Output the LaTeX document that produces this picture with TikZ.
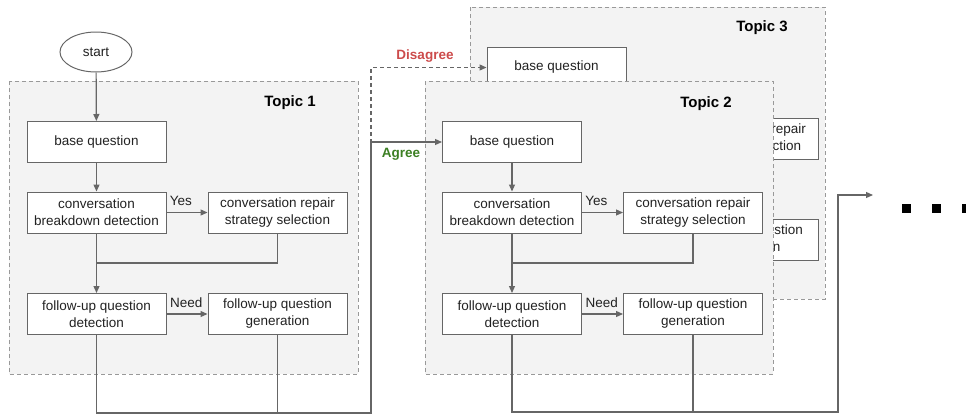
\documentclass[tikz,border=0pt]{standalone}
\usepackage{fontspec}
\setmainfont{Liberation Sans}
\usetikzlibrary{arrows.meta,shapes.geometric}
\definecolor{linec}{HTML}{666666}
\definecolor{dashc}{HTML}{999999}
\definecolor{topicfill}{HTML}{F3F3F3}
\definecolor{txt}{HTML}{222222}
\definecolor{redlab}{HTML}{CC4B4B}
\definecolor{greenlab}{HTML}{3C7F23}
\tikzset{
  flowbox/.style={draw=linec, line width=1pt, fill=white, minimum width=139pt, minimum height=41pt, inner sep=0pt, align=center, text=txt, font=\fontsize{13.5}{17}\selectfont},
  topicbox/.style={draw=dashc, line width=1pt, dash pattern=on 4pt off 3pt, fill=topicfill},
  topiclabel/.style={font=\fontsize{15}{18}\selectfont\bfseries, text=black, inner sep=0pt},
  lab/.style={font=\fontsize{13.5}{16}\selectfont, text=txt, inner sep=0pt},
  boldlab/.style={font=\fontsize{13.5}{16}\selectfont\bfseries, inner sep=0pt},
  conn/.style={draw=linec, line width=1.2pt},
  arr/.style={conn, -{Triangle[length=7pt,width=6pt]}},
  dconn/.style={conn, dash pattern=on 4pt off 3pt, -{Triangle[length=7pt,width=6pt]}},
}
\newcommand\topicflow[1]{%
  \node[flowbox] (#1base) at (96.5,142) {base question};
  \node[flowbox] (#1break) at (96.5,212.5) {conversation\\breakdown detection};
  \node[flowbox] (#1repair) at (277.5,212.5) {conversation repair\\strategy selection};
  \node[flowbox] (#1det) at (96.5,314) {follow-up question\\detection};
  \node[flowbox] (#1gen) at (277.5,314) {follow-up question\\generation};
  \coordinate (#1merge) at (96.5,263);
  \draw[arr] (#1base) -- (#1break);
  \draw[arr] (#1break) -- node[lab, pos=0.35, above=6pt] {Yes} (#1repair);
  \draw[arr] (#1break) -- (#1det);
  \draw[conn] (#1repair.south) |- (#1merge);
  \draw[arr] (#1det) -- node[lab, pos=0.48, above=6pt] {Need} (#1gen);
}
\begin{document}
\begin{tikzpicture}[x=1pt,y=-1pt]
\useasboundingbox (0,0) rectangle (966,416);
% Topic 3 (behind)
\draw[topicbox] (470,7) rectangle (825,299);
\node[topiclabel] (t3label) at (762,28) {Topic 3};
\node[flowbox] (t3base) at (556.5,67.5) {base question};
\node[flowbox] (t3repair) at (748.5,138.5) {conversation repair\\strategy selection};
\node[flowbox] (t3gen) at (748.5,240) {follow-up question\\generation};
% Topic 1
\draw[topicbox] (9,81) rectangle (358,374);
\node[topiclabel] (t1label) at (290,103) {Topic 1};
% Topic 2
\draw[topicbox] (425,81) rectangle (773,374);
\node[topiclabel] (t2label) at (706,104) {Topic 2};
% start
\node[draw=linec, line width=1pt, ellipse, minimum width=72pt, minimum height=40pt, inner sep=0pt, fill=white, text=txt, font=\fontsize{13.5}{16}\selectfont] (start) at (96,52) {start};
\topicflow{t1}
\begin{scope}[shift={(415.5,0)}]
\topicflow{t2}
\end{scope}
\draw[arr] (start) -- (t1base);
% connectors between topics
\coordinate (bus1) at (371,413);
\coordinate (bus2) at (838,412);
\coordinate (next) at (873,195);
\draw[dconn] (t1det.south) |- (bus1) |- (t3base.west);
\draw[arr] (t1det.south) |- (bus1) |- (t2base.west);
\draw[conn] (t1gen.south) -- (t1gen.south |- bus1);
\draw[arr] (t2det.south) |- (bus2) |- (next);
\draw[conn] (t2gen.south) -- (t2gen.south |- bus2);
\node[boldlab, text=redlab] (dis) at (425,56) {Disagree};
\node[boldlab, text=greenlab] (agr) at (401,154) {Agree};
% continuation dots
\fill[black] (902,204) rectangle (911,213);
\fill[black] (932,204) rectangle (941,213);
\fill[black] (962,204) rectangle (971,213);
\end{tikzpicture}
\end{document}
